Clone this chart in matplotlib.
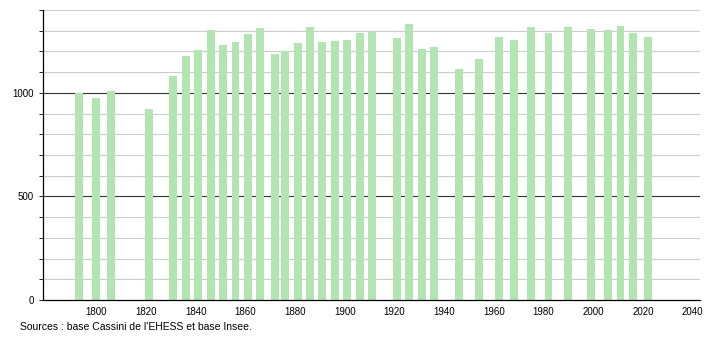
import matplotlib.pyplot as plt
from matplotlib.ticker import MultipleLocator

plt.rcParams["font.family"] = ["Liberation Sans", "DejaVu Sans"]

# Population counts
years = [1793, 1800, 1806, 1821, 1831, 1836, 1841, 1846, 1851, 1856, 1861, 1866,
         1872, 1876, 1881, 1886, 1891, 1896, 1901, 1906, 1911, 1921, 1926, 1931,
         1936, 1946, 1954, 1962, 1968, 1975, 1982, 1990, 1999, 2006, 2011, 2016,
         2022]
population = [1000, 974, 1010, 923, 1082, 1179, 1208, 1304, 1232, 1246, 1285, 1311,
              1188, 1203, 1241, 1317, 1246, 1251, 1256, 1291, 1296, 1266, 1333, 1213,
              1221, 1116, 1163, 1271, 1254, 1317, 1290, 1317, 1308, 1303, 1324, 1290,
              1269]
xticks = list(range(1800, 2041, 20))
ylabels = [0, 500, 1000]

fig = plt.figure(figsize=(7.1, 3.4), dpi=100)
ax = fig.add_axes([43 / 710, 40 / 340, 657 / 710, 290 / 340])

# grid: light every 100, dark every 500
for v in range(100, 1401, 100):
    if v % 500 == 0:
        ax.axhline(v, color="#333333", lw=0.8, zorder=1)
    else:
        ax.axhline(v, color="#cccccc", lw=0.8, zorder=1)

ax.bar(years, population, width=3.2, color="#b3e5b3", zorder=2)

ax.set_xlim(1778.5, 2043)
ax.set_ylim(0, 1400)
ax.set_xticks(xticks)
ax.set_yticks(ylabels)
ax.yaxis.set_minor_locator(MultipleLocator(100))
ax.tick_params(axis="x", length=0, labelsize=7, pad=5)
ax.tick_params(axis="y", which="both", length=3, labelsize=7, width=0.6)

for side in ["top", "right"]:
    ax.spines[side].set_visible(False)
ax.spines["left"].set_linewidth(0.9)
ax.spines["bottom"].set_linewidth(0.9)

fig.text(20 / 710, 1 - 327 / 340, "Sources : base Cassini de l'EHESS et base Insee.",
         fontsize=7.5, va="center", ha="left")

fig.savefig("out.png", dpi=100)
